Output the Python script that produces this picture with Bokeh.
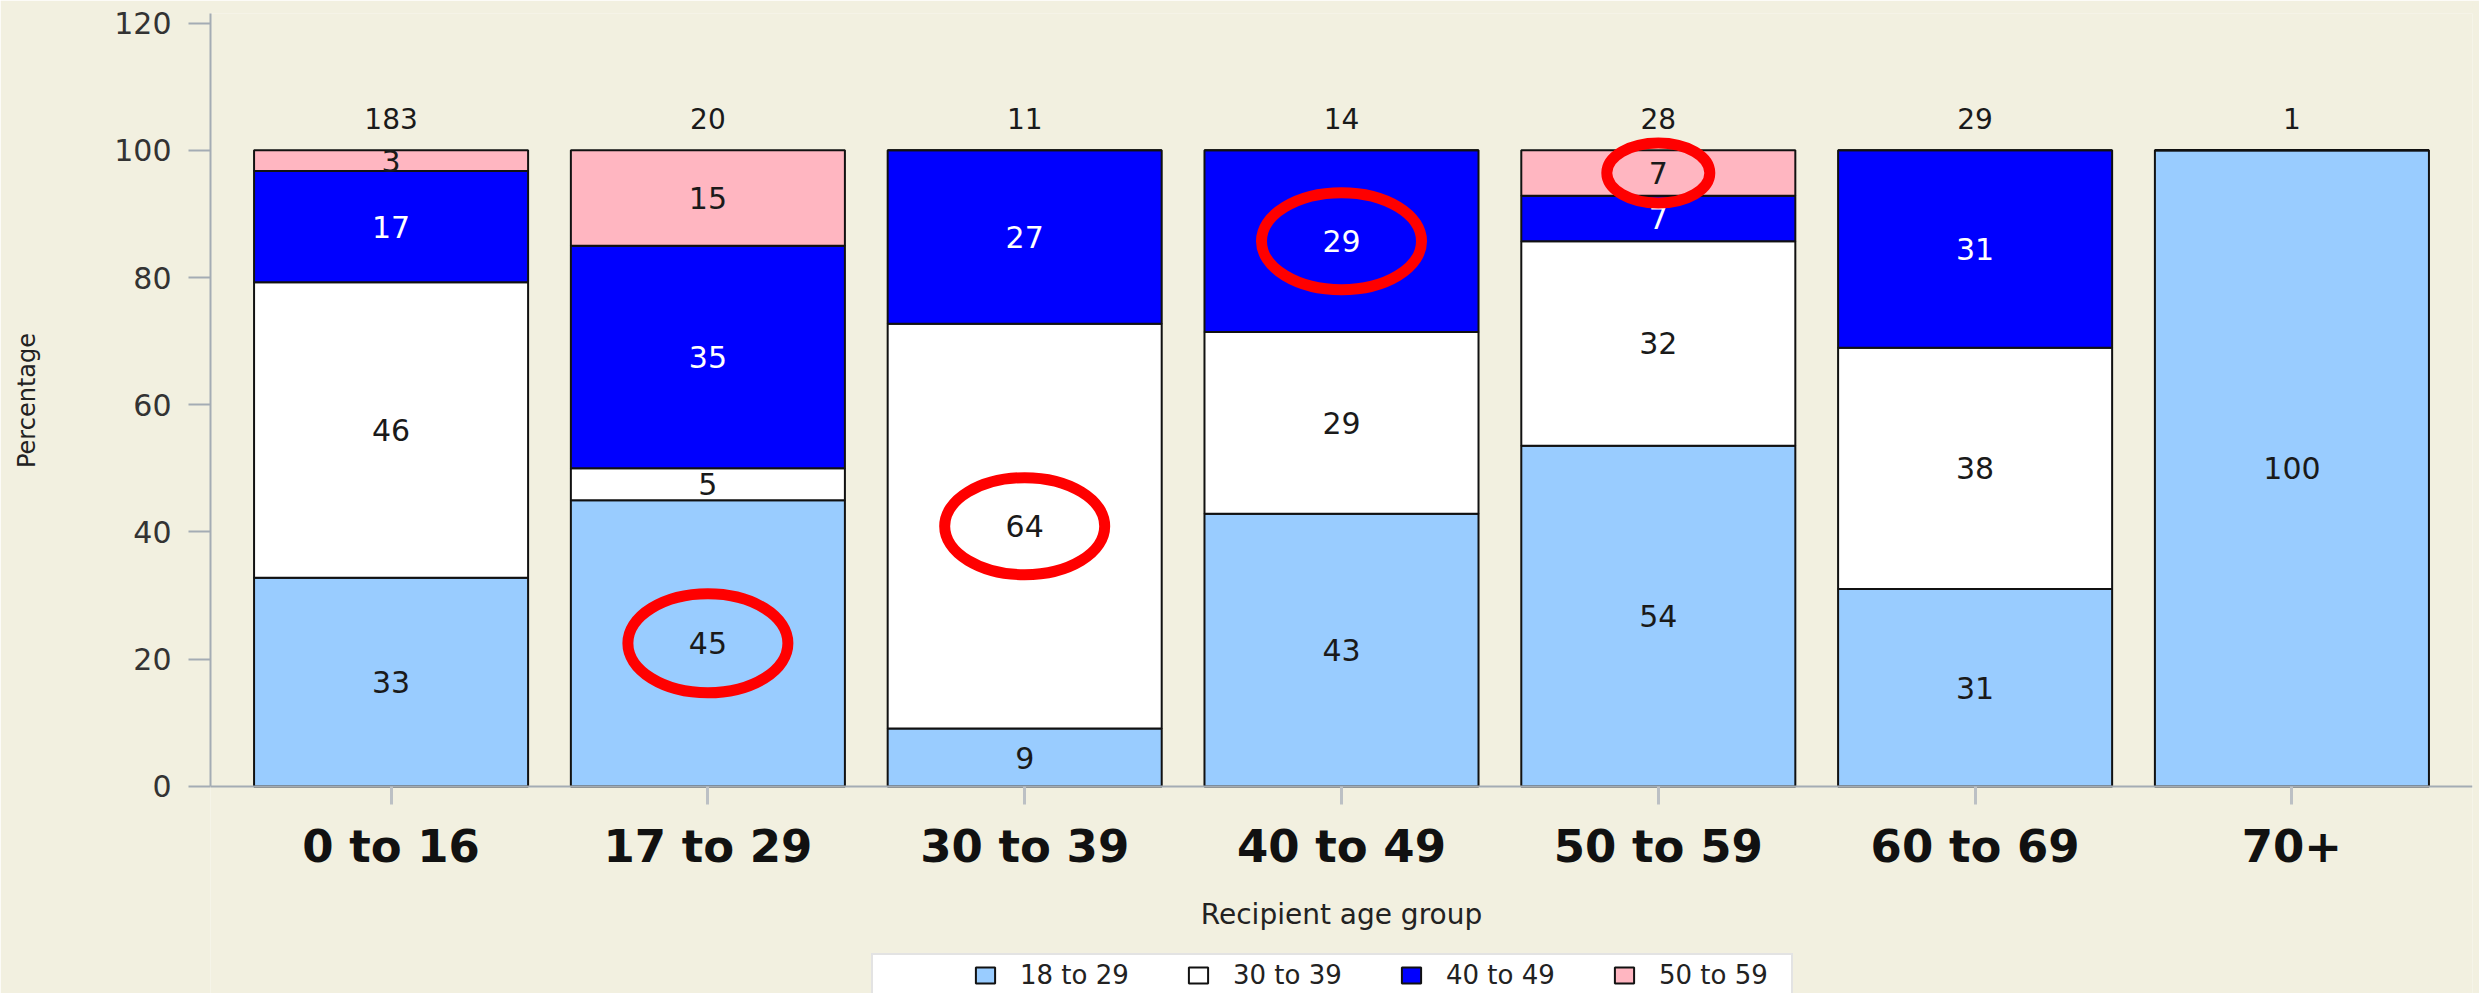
from bokeh.plotting import figure
from bokeh.models import (ColumnDataSource, FactorRange, Range1d, Legend, LegendItem, FixedTicker)
from bokeh.core.properties import value
from bokeh.embed import file_html
from bokeh.resources import INLINE

# ---------------- data ----------------
groups = ["0 to 16", "17 to 29", "30 to 39", "40 to 49", "50 to 59", "60 to 69", "70+"]
series_names = ["18 to 29", "30 to 39", "40 to 49", "50 to 59"]
pct_18_29 = [32.79, 45.0, 9.09, 42.86, 53.57, 31.03, 100.0]
pct_30_39 = [46.45, 5.0, 63.64, 28.57, 32.14, 37.93, 0.0]
pct_40_49 = [17.49, 35.0, 27.27, 28.57, 7.14, 31.03, 0.0]
pct_50_59 = [3.28, 15.0, 0.0, 0.0, 7.14, 0.0, 0.0]
group_n = [183, 20, 11, 14, 28, 29, 1]
y_ticks = [0, 20, 40, 60, 80, 100, 120]
circled = [("17 to 29", "18 to 29"), ("30 to 39", "30 to 39"),
           ("40 to 49", "40 to 49"), ("50 to 59", "50 to 59")]
circle_w = [160, 160, 160, 103]
circle_h = [99, 97, 97, 60]

# ---------------- style ----------------
BG = "#F2F0E0"
series_colors = ["#99CCFF", "#FFFFFF", "#0000FF", "#FFB6C1"]
label_colors = ["#1a1a1a", "#1a1a1a", "#FFFFFF", "#1a1a1a"]
FONT = "DejaVu Sans"
Y_TOP = 121.5
Y_BOTTOM = -32.55   # room under the axis for category labels, axis title and legend

series = [pct_18_29, pct_30_39, pct_40_49, pct_50_59]
src = ColumnDataSource(dict(groups=groups, **{n: s for n, s in zip(series_names, series)}))

p = figure(
    x_range=FactorRange(factors=groups, range_padding=0.07, range_padding_units="absolute"),
    y_range=Range1d(Y_BOTTOM, Y_TOP),
    width=2479, height=993,
    output_backend="svg", toolbar_location=None,
    min_border_left=210, min_border_right=7, min_border_top=13, min_border_bottom=0,
)
p.background_fill_color = BG
p.border_fill_color = BG
p.outline_line_color = None
p.grid.visible = False

renderers = p.vbar_stack(series_names, x="groups", width=0.865, source=src,
                         fill_color=series_colors, line_color="#111111", line_width=2)

# segment labels at segment centres
lx, ly, lt, lc = [], [], [], []
seg_center = {}
for gi, g in enumerate(groups):
    base = 0.0
    for si, s in enumerate(series):
        v = s[gi]
        if v > 0:
            c = base + v / 2.0
            lx.append(g); ly.append(c); lt.append(str(int(round(v)))); lc.append(label_colors[si])
            seg_center[(g, series_names[si])] = c
        base += v

lab_src = ColumnDataSource(dict(x=lx, y=ly, t=lt, c=lc))
p.text(x="x", y="y", text="t", text_color="c", source=lab_src,
       text_align="center", text_baseline="middle",
       text_font=value(FONT), text_font_size="30px")

totals = [sum(s[i] for s in series) for i in range(len(groups))]
tot_src = ColumnDataSource(dict(x=groups, y=totals, t=[str(n) for n in group_n]))
p.text(x="x", y="y", text="t", source=tot_src, y_offset=-32,
       text_align="center", text_baseline="middle", text_color="#1a1a1a",
       text_font=value(FONT), text_font_size="28px")

# red highlight ellipses around selected labels
ell_src = ColumnDataSource(dict(
    x=[g for g, _ in circled],
    y=[seg_center[(g, s)] for g, s in circled],
    w=circle_w, h=circle_h))
p.ellipse(x="x", y="y", width="w", height="h", source=ell_src,
          width_units="screen", height_units="screen",
          fill_color=None, line_color="#FF0000", line_width=11)

# axes
xa = p.xaxis[0]
xa.fixed_location = 0
xa.axis_label = "Recipient age group"
xa.axis_label_text_font = FONT
xa.axis_label_text_font_style = "normal"
xa.axis_label_text_font_size = "28px"
xa.axis_label_text_color = "#222222"
xa.axis_label_standoff = 21
xa.major_label_text_font = FONT
xa.major_label_text_font_style = "bold"
xa.major_label_text_font_size = "45px"
xa.major_label_text_color = "#111111"
xa.major_label_standoff = 16
xa.major_tick_in = 0
xa.major_tick_out = 18
xa.major_tick_line_color = "#bcc0c4"
xa.major_tick_line_width = 3
xa.axis_line_color = "#a4acb4"
xa.axis_line_width = 2

ya = p.yaxis[0]
ya.bounds = (0, Y_TOP)
ya.ticker = FixedTicker(ticks=y_ticks)
# the frame runs down to the page bottom, so lead the title with no-break spaces
# to centre the visible word on the 0-120 part of the axis
ya.axis_label = "\u00a0" * 27 + "Percentage"
ya.axis_label_text_font = FONT
ya.axis_label_text_font_style = "normal"
ya.axis_label_text_font_size = "24px"
ya.axis_label_text_color = "#222222"
ya.axis_label_standoff = 70
ya.major_label_text_font = FONT
ya.major_label_text_font_size = "30px"
ya.major_label_text_color = "#333333"
ya.major_label_standoff = 17
ya.major_tick_in = 0
ya.major_tick_out = 22
ya.minor_tick_line_color = None
ya.major_tick_line_color = "#a4acb4"
ya.major_tick_line_width = 2
ya.axis_line_color = "#a4acb4"
ya.axis_line_width = 2

# legend under the axis title (its lower edge runs off the page, as in the reference)
legend = Legend(
    items=[LegendItem(label=n, renderers=[r]) for n, r in zip(series_names, renderers)],
    orientation="horizontal",
    location=(661, -4),
    title=" ", title_location="left", title_standoff=65,
    title_text_font=FONT, title_text_font_size="26px",
    padding=5, margin=0,
    glyph_width=24, glyph_height=20,
    label_standoff=23, spacing=39, label_width=127,
    label_text_font=FONT, label_text_font_size="26px", label_text_color="#222222",
    border_line_color="#c8c8c8", border_line_width=2,
    background_fill_color="#FFFFFF", background_fill_alpha=1.0,
)
p.add_layout(legend)

open("out.html", "w").write(file_html(p, INLINE))
